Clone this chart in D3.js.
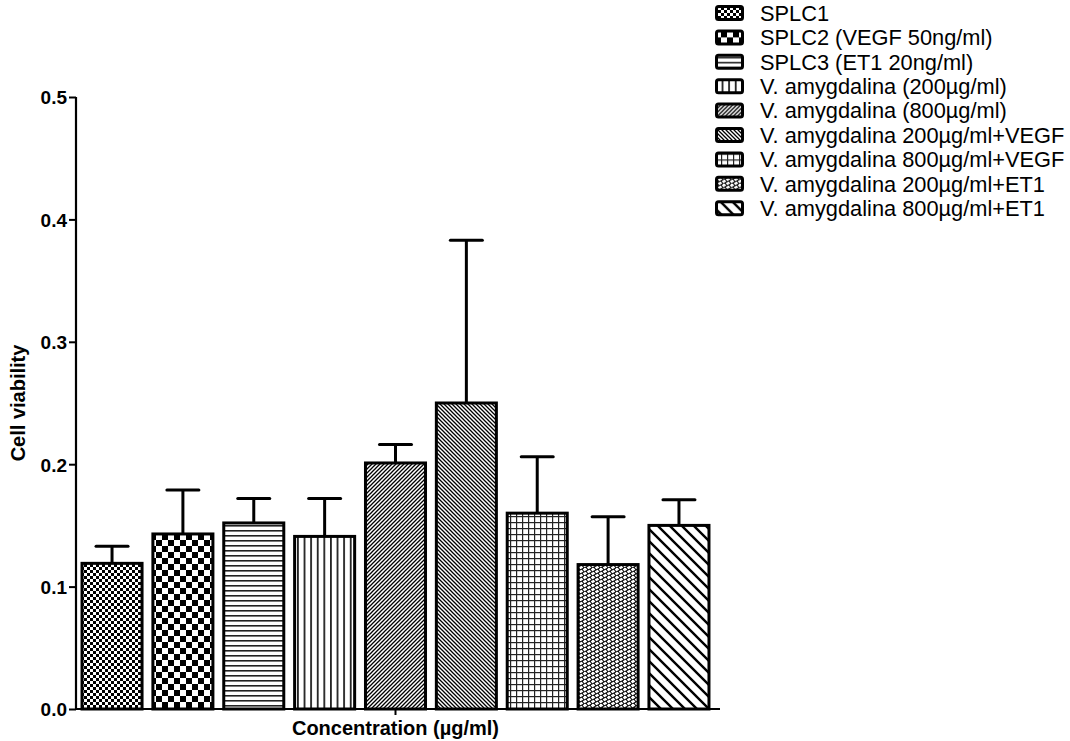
<!DOCTYPE html>
<html>
<head>
<meta charset="utf-8">
<script src="https://cdnjs.cloudflare.com/ajax/libs/d3/7.8.5/d3.min.js"></script>
<style>
  body { margin: 0; background: #fff; }
  text { font-family: "Liberation Sans", Arial, sans-serif; fill: #000; }
</style>
</head>
<body>
<div id="chart"></div>
<script>
let svgWidth = 1070;
let svgHeight = 741;

// Data
let groups = [
  "SPLC1",
  "SPLC2 (VEGF 50ng/ml)",
  "SPLC3 (ET1 20ng/ml)",
  "V. amygdalina (200µg/ml)",
  "V. amygdalina (800µg/ml)",
  "V. amygdalina 200µg/ml+VEGF",
  "V. amygdalina 800µg/ml+VEGF",
  "V. amygdalina 200µg/ml+ET1",
  "V. amygdalina 800µg/ml+ET1"
];
let means = [0.119, 0.143, 0.152, 0.141, 0.201, 0.250, 0.160, 0.118, 0.150];
let errors = [0.014, 0.036, 0.020, 0.031, 0.015, 0.133, 0.046, 0.039, 0.021];
let yTicks = [0.0, 0.1, 0.2, 0.3, 0.4, 0.5];

let svg = d3.select("#chart").append("svg").attr("width", svgWidth).attr("height", svgHeight);
let defs = svg.append("defs");

// Patterns -------------------------------------------------

let addPattern = (id, w, h, draw) => {
  let p = defs.append("pattern")
    .attr("id", id)
    .attr("patternUnits", "userSpaceOnUse")
    .attr("width", w)
    .attr("height", h);
  p.append("rect").attr("width", w).attr("height", h).attr("fill", "#fff");
  draw(p);
};

let checker = (p, s) => {
  p.append("rect").attr("width", s).attr("height", s).attr("fill", "#000");
  p.append("rect").attr("x", s).attr("y", s).attr("width", s).attr("height", s).attr("fill", "#000");
};

addPattern("p0", 6, 6, p => checker(p, 3));
addPattern("p1", 12, 12, p => checker(p, 6));
addPattern("p2", 5, 5, p => p.append("rect").attr("y", 0).attr("width", 5).attr("height", 1.6).attr("fill", "#222"));
addPattern("p3", 6.6, 6, p => p.append("rect").attr("x", 0).attr("width", 1.8).attr("height", 6).attr("fill", "#222"));
addPattern("p4", 4, 4, p => p.append("path").attr("d", "M-1,1 L1,-1 M0,4 L4,0 M3,5 L5,3").attr("stroke", "#000").attr("stroke-width", 1.3));
addPattern("p5", 4, 4, p => p.append("path").attr("d", "M-1,3 L1,5 M0,0 L4,4 M3,-1 L5,1").attr("stroke", "#000").attr("stroke-width", 1.3));
addPattern("p6", 6, 6, p => {
  p.append("rect").attr("width", 6).attr("height", 1.2).attr("fill", "#222");
  p.append("rect").attr("width", 1.2).attr("height", 6).attr("fill", "#222");
});
// slanted bricks
addPattern("p7", 8, 8, p => {
  p.append("path")
    .attr("d", "M0,4 L8,0 M0,8 L8,4 M0,12 L8,8 M2,3 L4,6 M6,1 L8,4 M6,5 L8,8 M2,7 L4,10 M2,-1 L4,2")
    .attr("stroke", "#000").attr("stroke-width", 1.1);
});
addPattern("p8", 12, 12, p => p.append("path").attr("d", "M-3,9 L3,15 M0,0 L12,12 M9,-3 L15,3").attr("stroke", "#000").attr("stroke-width", 2.4));

// Scales and axes ------------------------------------------

let x0 = 76, yBase = 709;

let xScale = d3.scaleBand()
  .domain(groups)
  .range([x0, 715])
  .paddingInner(0.153)
  .paddingOuter(0.085);

let yScale = d3.scaleLinear()
  .domain([0, 0.5])
  .range([yBase, 97]);

// bars
let barGroup = svg.append("g");
barGroup.selectAll("rect")
  .data(groups)
  .enter()
  .append("rect")
  .attr("x", d => xScale(d))
  .attr("y", (d, i) => yScale(means[i]))
  .attr("width", xScale.bandwidth())
  .attr("height", (d, i) => yBase - yScale(means[i]))
  .attr("fill", (d, i) => `url(#p${i})`)
  .attr("stroke", "#000")
  .attr("stroke-width", 3);

// error bars (upper only)
let errGroup = svg.append("g").attr("stroke", "#000").attr("stroke-width", 3);
groups.forEach((g, i) => {
  let cx = xScale(g) + xScale.bandwidth() / 2;
  let top = yScale(means[i] + errors[i]);
  errGroup.append("line")
    .attr("x1", cx).attr("x2", cx)
    .attr("y1", yScale(means[i])).attr("y2", top);
  errGroup.append("line")
    .attr("x1", cx - 16).attr("x2", cx + 16)
    .attr("y1", top).attr("y2", top)
    .attr("stroke-linecap", "round");
});

// y axis
let yAxis = svg.append("g")
  .attr("transform", `translate(${x0}, 0)`)
  .call(d3.axisLeft(yScale).tickValues(yTicks).tickFormat(d3.format(".1f")).tickSize(7).tickPadding(2));
yAxis.select(".domain").attr("stroke-width", 2.2).attr("d", `M0,${yScale(0.5)}V${yBase + 1}`);
yAxis.selectAll(".tick line").attr("stroke-width", 2);
yAxis.selectAll(".tick text")
  .attr("font-size", 19)
  .attr("font-weight", "bold")
  .attr("font-family", "Liberation Sans, Arial, sans-serif")
  .attr("dy", "0.36em");

// x axis line + single centre tick
let xMid = (xScale(groups[4]) + xScale.bandwidth() / 2);
svg.append("line")
  .attr("x1", x0 - 1).attr("x2", 720)
  .attr("y1", yBase).attr("y2", yBase)
  .attr("stroke", "#000").attr("stroke-width", 2.2);
svg.append("line")
  .attr("x1", xMid).attr("x2", xMid)
  .attr("y1", yBase).attr("y2", yBase + 6)
  .attr("stroke", "#000").attr("stroke-width", 2);

// titles
svg.append("text")
  .attr("x", xMid)
  .attr("y", 735)
  .attr("text-anchor", "middle")
  .attr("font-size", 20)
  .attr("font-weight", "bold")
  .text("Concentration (µg/ml)");

svg.append("text")
  .attr("transform", `translate(25, ${(yScale(0) + yScale(0.5)) / 2}) rotate(-90)`)
  .attr("text-anchor", "middle")
  .attr("font-size", 20)
  .attr("font-weight", "bold")
  .text("Cell viability");

// legend
let legend = svg.append("g").attr("transform", "translate(715, 13)");
groups.forEach((g, i) => {
  let row = legend.append("g").attr("transform", `translate(0, ${i * 24.4})`);
  row.append("rect")
    .attr("x", 1.5).attr("y", -6.5)
    .attr("width", 26).attr("height", 13)
    .attr("rx", 2)
    .attr("fill", `url(#p${i})`)
    .attr("stroke", "#000")
    .attr("stroke-width", 3);
  row.append("text")
    .attr("x", 45)
    .attr("y", 0)
    .attr("dy", "0.36em")
    .attr("font-size", 21.8)
    .text(g);
});
</script>
</body>
</html>
